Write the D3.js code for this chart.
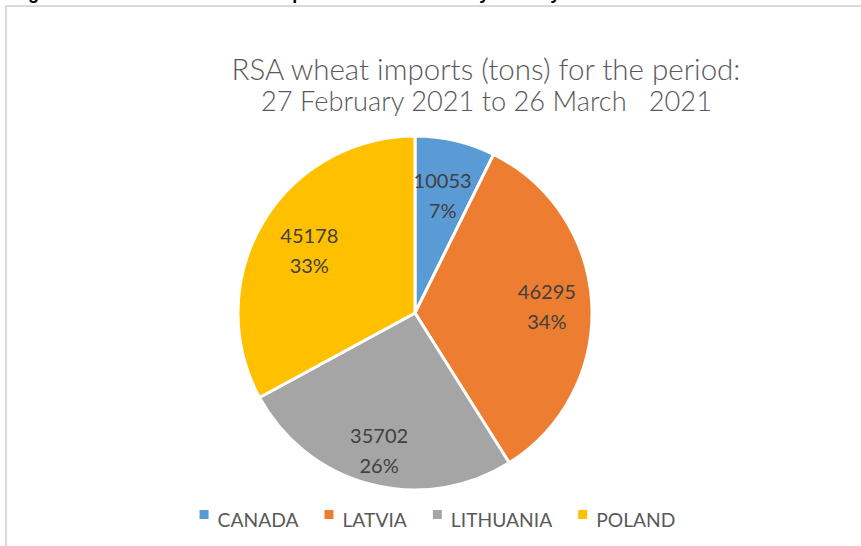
<!DOCTYPE html>
<html>
<head>
<meta charset="utf-8">
<script src="https://cdn.jsdelivr.net/npm/d3@7"></script>
<style>
  html, body { margin: 0; padding: 0; background: #fff; }
  svg { display: block; }
</style>
</head>
<body>
<svg id="chart" width="861" height="546"></svg>
<script>
// ---- data ----
const categories = ["CANADA", "LATVIA", "LITHUANIA", "POLAND"];
const values = [10053, 46295, 35702, 45178];
const colors = ["#5B9BD5", "#ED7D31", "#A5A5A5", "#FFC000"];
const titleLines = ["RSA wheat imports (tons) for the period:", "27 February 2021 to 26 March\u00A0\u00A0 2021"];
const captionText = "Figure 5: South African wheat imports in tons shown by country";

// ---- layout ----
const W = 861, H = 546;
const cx = 415, cy = 313, R = 177;
const labelRadius = { CANADA: 121, LATVIA: 132, LITHUANIA: 142, POLAND: 123 };

const svg = d3.select("#chart");

// cropped caption above the chart frame (only descenders visible, as in the reference)
svg.append("text")
  .attr("x", 12).attr("y", -1)
  .attr("font-family", "Liberation Sans, Arial, sans-serif")
  .attr("font-weight", "bold")
  .attr("font-size", 18)
  .attr("fill", "#000")
  .text(captionText);

// chart frame
svg.append("rect")
  .attr("x", 6).attr("y", 6)
  .attr("width", W + 20).attr("height", H + 20)
  .attr("fill", "#fff")
  .attr("stroke", "#d9d9d9")
  .attr("stroke-width", 2);

function fit(sel, target) {
  const node = sel.node();
  const fs = parseFloat(sel.attr("font-size"));
  const w = node.getComputedTextLength();
  sel.attr("font-size", fs * target / w);
}

// title
const titleFont = "Lato, sans-serif";
const t1 = svg.append("text")
  .attr("x", 486).attr("y", 80)
  .attr("text-anchor", "middle")
  .attr("font-family", titleFont)
  .attr("font-weight", 300)
  .attr("font-size", 22)
  .attr("fill", "#595959")
  .text(titleLines[0]);
fit(t1, 509);
const t2 = svg.append("text")
  .attr("x", 486.5).attr("y", 111)
  .attr("text-anchor", "middle")
  .attr("font-family", titleFont)
  .attr("font-weight", 300)
  .attr("font-size", 22)
  .attr("fill", "#595959")
  .style("white-space", "pre")
  .text(titleLines[1]);
fit(t2, 451);

// pie
const total = d3.sum(values);
const pie = d3.pie().sort(null).value(d => d)(values);
const arc = d3.arc().innerRadius(0).outerRadius(R);
const color = d3.scaleOrdinal().domain(categories).range(colors);
const pct = d3.format(".0%");

const g = svg.append("g").attr("transform", `translate(${cx},${cy})`);
g.selectAll("path.slice")
  .data(pie)
  .join("path")
  .attr("class", "slice")
  .attr("d", arc)
  .attr("fill", (d, i) => color(categories[i]))
  .attr("stroke", "#fff")
  .attr("stroke-width", 3)
  .attr("stroke-linejoin", "round");

// data labels
const probe = svg.append("text").attr("font-family", "Lato, sans-serif").attr("font-size", 20).text("10053");
const labelFont = 20 * 58 / probe.node().getComputedTextLength();
probe.remove();

pie.forEach((d, i) => {
  const a = (d.startAngle + d.endAngle) / 2;
  const r = labelRadius[categories[i]];
  const x = Math.sin(a) * r, y = -Math.cos(a) * r;
  const lab = g.append("text")
    .attr("text-anchor", "middle")
    .attr("font-family", "Lato, sans-serif")
    .attr("font-size", labelFont)
    .attr("fill", "#404040");
  lab.append("tspan").attr("x", x).attr("y", y - 7.5).text(values[i]);
  lab.append("tspan").attr("x", x).attr("y", y + 22.5).text(pct(values[i] / total));
});

// legend
const probe2 = svg.append("text").attr("font-family", "Lato, sans-serif").attr("font-size", 20).text("CANADA");
const legendFont = 20 * 81 / probe2.node().getComputedTextLength();
probe2.remove();

const legend = svg.append("g");
let xPos = 0;
categories.forEach((c, i) => {
  const item = legend.append("g").attr("transform", `translate(${xPos},0)`);
  item.append("rect")
    .attr("x", 0).attr("y", 510)
    .attr("width", 9).attr("height", 9)
    .attr("fill", color(c));
  const tx = item.append("text")
    .attr("x", 18).attr("y", 527)
    .attr("font-family", "Lato, sans-serif")
    .attr("font-size", legendFont)
    .attr("fill", "#595959")
    .text(c);
  xPos += 18 + tx.node().getComputedTextLength() + 26;
});
const legendWidth = xPos - 26;
legend.attr("transform", `translate(${437.5 - legendWidth / 2},0)`);
</script>
</body>
</html>
